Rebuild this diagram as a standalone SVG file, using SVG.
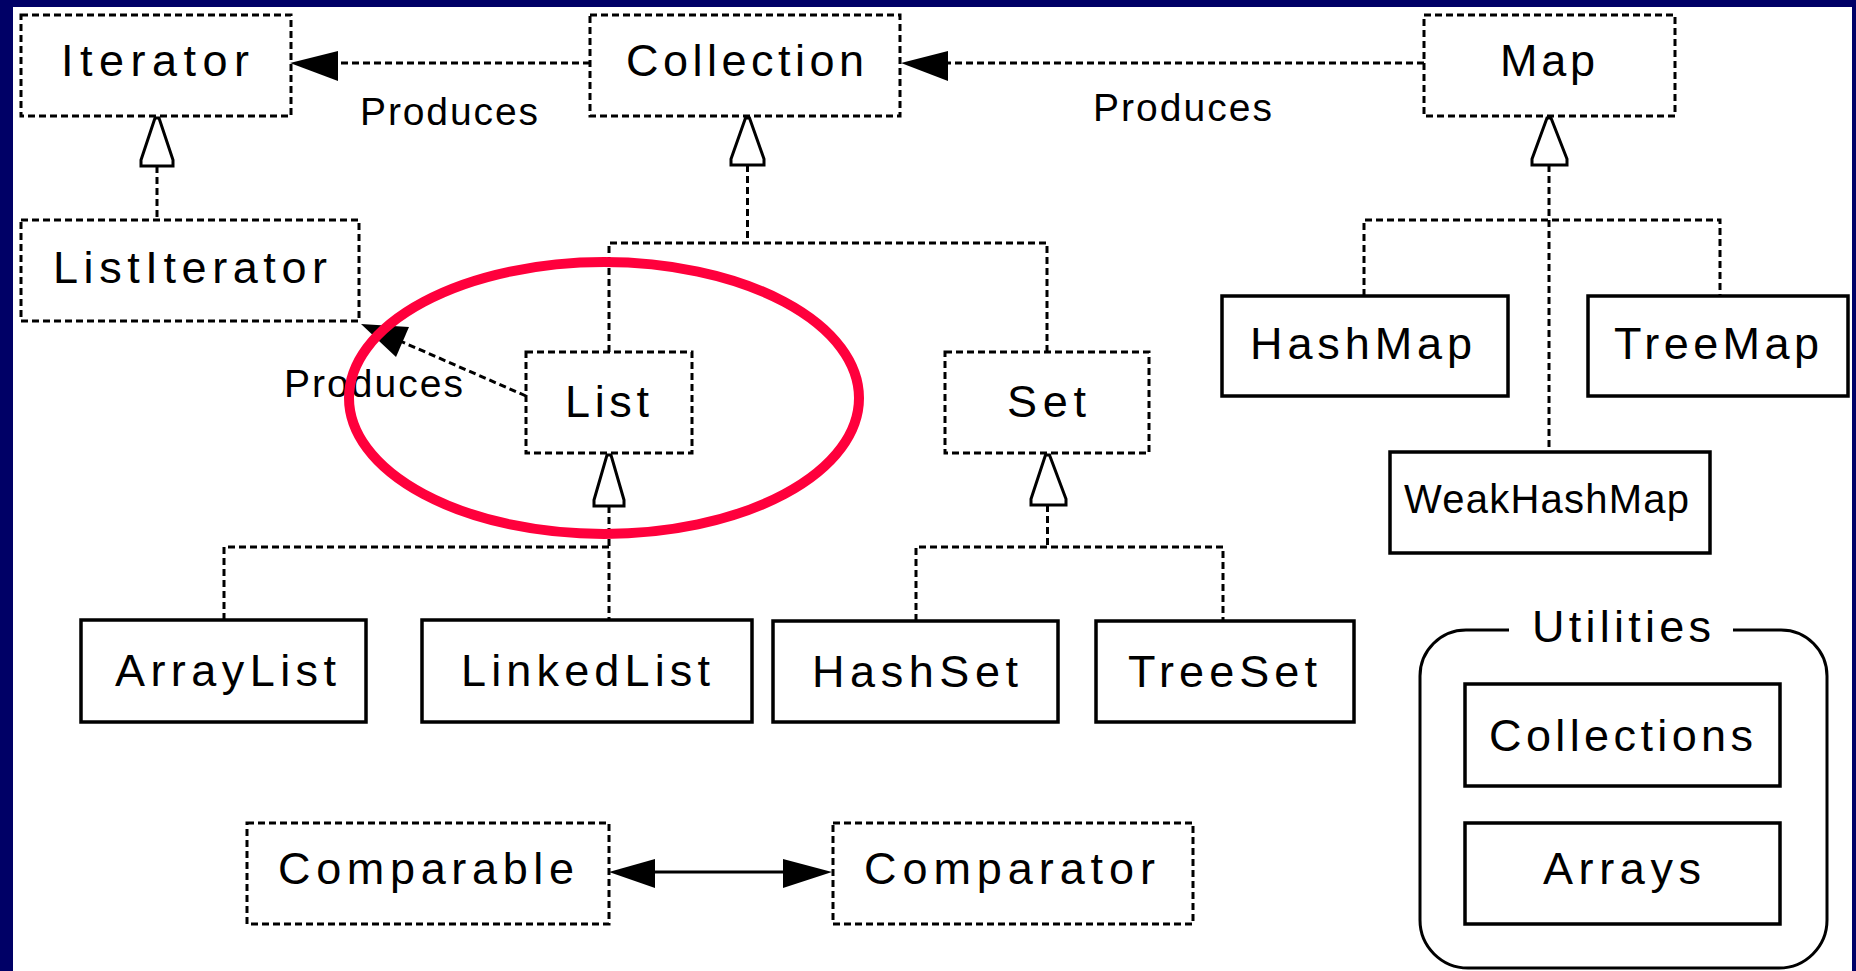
<svg xmlns="http://www.w3.org/2000/svg" width="1856" height="971" viewBox="0 0 1856 971">
<style>
.bg{fill:#ffffff}
.frame{fill:#000066}
.dbox{fill:none;stroke:#000;stroke-width:3;stroke-dasharray:7 4}
.sbox{fill:none;stroke:#000;stroke-width:3.5}
.lbl{font-family:"Liberation Sans",Arial,sans-serif;font-size:45px;fill:#000}
.sm{font-family:"Liberation Sans",Arial,sans-serif;font-size:39px;fill:#000}
.dline{fill:none;stroke:#000;stroke-width:3;stroke-dasharray:7 4}
.sline{fill:none;stroke:#000;stroke-width:3}
.head{fill:#000;stroke:none}
.hollow{fill:#fff;stroke:#000;stroke-width:3;stroke-linejoin:miter}
.mark{fill:none;stroke:#ff003c;stroke-width:10}
</style>
<rect class="bg" x="0" y="0" width="1856" height="971"/>
<rect class="frame" x="0" y="0" width="1856" height="7"/>
<rect class="frame" x="0" y="0" width="13" height="971"/>
<rect class="frame" x="1852" y="0" width="4" height="971"/>

<g id="connectors">
  <!-- Collection produces Iterator -->
  <line class="dline" x1="590" y1="63" x2="336" y2="63"/>
  <polygon class="head" points="290,63 338,51 338,81"/>
  <!-- Map produces Collection -->
  <line class="dline" x1="1424" y1="63" x2="946" y2="63"/>
  <polygon class="head" points="901,63 948,51 948,81"/>
  <!-- ListIterator extends Iterator -->
  <line class="dline" x1="157" y1="166" x2="157" y2="220"/>
  <polygon class="hollow" points="155,118 159,118 173,160 173,166 141,166 141,160"/>
  <!-- List / Set extend Collection -->
  <polygon class="hollow" points="745.5,118 749.5,118 764,159 764,165 731,165 731,159"/>
  <polyline class="dline" points="747.5,165 747.5,243"/>
  <polyline class="dline" points="609,352 609,243 1047,243 1047,352"/>
  <!-- ArrayList / LinkedList implement List -->
  <polygon class="hollow" points="607,455 611,455 624,500 624,506 594,506 594,500"/>
  <polyline class="dline" points="609,506 609,547"/>
  <polyline class="dline" points="224,620 224,547 609,547 609,620"/>
  <!-- HashSet / TreeSet implement Set -->
  <polygon class="hollow" points="1045.5,455 1049.5,455 1066,499 1066,505 1031,505 1031,499"/>
  <polyline class="dline" points="1047.5,505 1047.5,547"/>
  <polyline class="dline" points="916,621 916,547 1223,547 1223,621"/>
  <!-- HashMap / TreeMap / WeakHashMap implement Map -->
  <polygon class="hollow" points="1547,118 1551,118 1567,159 1567,165 1532,165 1532,159"/>
  <polyline class="dline" points="1549,165 1549,452"/>
  <polyline class="dline" points="1364,296 1364,220 1720,220 1720,296"/>
  <!-- List produces ListIterator -->
  <line class="dline" x1="526" y1="396" x2="400" y2="341"/>
  <polygon class="head" points="361,324 409,327 396,357"/>
  <!-- Comparable <-> Comparator -->
  <line class="sline" x1="650" y1="872" x2="788" y2="872"/>
  <polygon class="head" points="609,872 655,859 655,888"/>
  <polygon class="head" points="832,872 783,859 783,888"/>
</g>

<g id="label-produces-1"><text class="sm" x="360" y="125" textLength="178" lengthAdjust="spacing">Produces</text></g>
<g id="label-produces-2"><text class="sm" x="1093" y="121" textLength="179" lengthAdjust="spacing">Produces</text></g>
<g id="label-produces-3"><text class="sm" x="284" y="397" textLength="179" lengthAdjust="spacing">Produces</text></g>

<g id="node-iterator">
  <rect class="dbox" x="21" y="15" width="270" height="101"/>
  <text class="lbl" x="61" y="76" textLength="188" lengthAdjust="spacing">Iterator</text>
</g>
<g id="node-collection">
  <rect class="dbox" x="590" y="15" width="310" height="101"/>
  <text class="lbl" x="626" y="76" textLength="238" lengthAdjust="spacing">Collection</text>
</g>
<g id="node-map">
  <rect class="dbox" x="1424" y="15" width="251" height="101"/>
  <text class="lbl" x="1500" y="76" textLength="95" lengthAdjust="spacing">Map</text>
</g>
<g id="node-listiterator">
  <rect class="dbox" x="21" y="220" width="338" height="101"/>
  <text class="lbl" x="53" y="283" textLength="274" lengthAdjust="spacing">ListIterator</text>
</g>
<g id="node-list">
  <rect class="dbox" x="526" y="352" width="166" height="101"/>
  <text class="lbl" x="565" y="417" textLength="84" lengthAdjust="spacing">List</text>
</g>
<g id="node-set">
  <rect class="dbox" x="945" y="352" width="204" height="101"/>
  <text class="lbl" x="1007" y="417" textLength="79" lengthAdjust="spacing">Set</text>
</g>
<g id="node-hashmap">
  <rect class="sbox" x="1222" y="296" width="286" height="100"/>
  <text class="lbl" x="1250" y="359" textLength="222" lengthAdjust="spacing">HashMap</text>
</g>
<g id="node-treemap">
  <rect class="sbox" x="1588" y="296" width="260" height="100"/>
  <text class="lbl" x="1614" y="359" textLength="205" lengthAdjust="spacing">TreeMap</text>
</g>
<g id="node-weakhashmap">
  <rect class="sbox" x="1390" y="452" width="320" height="101"/>
  <text class="lbl" x="1404" y="513" font-size="40" style="font-size:40px" textLength="285" lengthAdjust="spacing">WeakHashMap</text>
</g>
<g id="node-arraylist">
  <rect class="sbox" x="81" y="620" width="285" height="102"/>
  <text class="lbl" x="115" y="686" textLength="221" lengthAdjust="spacing">ArrayList</text>
</g>
<g id="node-linkedlist">
  <rect class="sbox" x="422" y="620" width="330" height="102"/>
  <text class="lbl" x="461" y="686" textLength="249" lengthAdjust="spacing">LinkedList</text>
</g>
<g id="node-hashset">
  <rect class="sbox" x="773" y="621" width="285" height="101"/>
  <text class="lbl" x="812" y="687" textLength="206" lengthAdjust="spacing">HashSet</text>
</g>
<g id="node-treeset">
  <rect class="sbox" x="1096" y="621" width="258" height="101"/>
  <text class="lbl" x="1128" y="687" textLength="189" lengthAdjust="spacing">TreeSet</text>
</g>
<g id="node-comparable">
  <rect class="dbox" x="247" y="823" width="362" height="101"/>
  <text class="lbl" x="278" y="884" textLength="296" lengthAdjust="spacing">Comparable</text>
</g>
<g id="node-comparator">
  <rect class="dbox" x="833" y="823" width="360" height="101"/>
  <text class="lbl" x="864" y="884" textLength="291" lengthAdjust="spacing">Comparator</text>
</g>
<g id="node-utilities">
  <path class="sline" d="M1509,630 H1466 A46,46 0 0 0 1420,676 V920 A48,48 0 0 0 1468,968 H1779 A48,48 0 0 0 1827,920 V676 A46,46 0 0 0 1781,630 H1733"/>
  <text class="lbl" x="1532" y="642" textLength="179" lengthAdjust="spacing">Utilities</text>
</g>
<g id="node-collections">
  <rect class="sbox" x="1465" y="684" width="315" height="102"/>
  <text class="lbl" x="1489" y="751" textLength="264" lengthAdjust="spacing">Collections</text>
</g>
<g id="node-arrays">
  <rect class="sbox" x="1465" y="823" width="315" height="101"/>
  <text class="lbl" x="1543" y="884" textLength="158" lengthAdjust="spacing">Arrays</text>
</g>

<g id="highlight">
  <ellipse class="mark" cx="604" cy="398" rx="255" ry="136"/>
</g>
</svg>
